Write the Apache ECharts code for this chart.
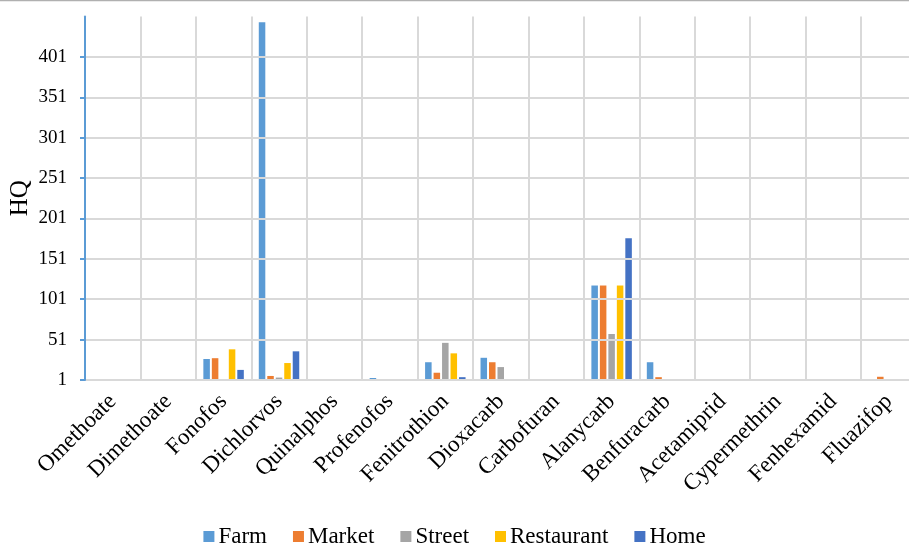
<!DOCTYPE html>
<html>
<head>
<meta charset="utf-8">
<script src="https://cdn.jsdelivr.net/npm/echarts@6/dist/echarts.min.js"></script>
<style>
html,body{margin:0;padding:0;background:#fff;}
#c{width:909px;height:545px;}
</style>
</head>
<body>
<div id="c"></div>
<script>
const categories = ['Omethoate','Dimethoate','Fonofos','Dichlorvos','Quinalphos','Profenofos','Fenitrothion','Dioxacarb','Carbofuran','Alanycarb','Benfuracarb','Acetamiprid','Cypermethrin','Fenhexamid','Fluazifop'];
const farm       = [0, 0, 27, 444, 0, 3.5, 23, 28.5, 0, 118, 23, 0, 0, 0, 0];
const market     = [0, 0, 28, 6, 0, 0, 10, 23, 0, 118, 4.5, 0, 0, 0, 5];
const street     = [0, 0, 0, 4, 0, 0, 47, 17, 0, 58, 0, 0, 0, 0, 0];
const restaurant = [0, 0, 39, 22, 0, 0, 34, 0, 0, 118, 0, 0, 0, 0, 0];
const home       = [0, 0, 13.5, 36.5, 0, 0, 4.5, 0, 0, 176.5, 0, 0, 0, 0, 0];
const seriesNames = ['Farm','Market','Street','Restaurant','Home'];
const colors = ['#5B9BD5','#ED7D31','#A5A5A5','#FFC000','#4472C4'];

const font = "'Liberation Serif','Times New Roman',serif";
const chart = echarts.init(document.getElementById('c'), null, {renderer:'canvas'});
const dataSets = [farm, market, street, restaurant, home];
const toVal = arr => arr.map(v => v === 0 ? null : v);

chart.setOption({
  animation: false,
  color: colors,
  textStyle: {fontFamily: font},
  graphic: [{type:'line', shape:{x1:0,y1:0.5,x2:909,y2:0.5}, style:{stroke:'#b0b0b0', lineWidth:1.5}}],
  grid: {left: 85, right: -7.5, top: 16.6, bottom: 165, outerBoundsMode: 'none', containLabel: false},
  legend: {
    top: 520, left: 'center',
    itemWidth: 11, itemHeight: 11, itemGap: 26, icon: 'rect',
    textStyle: {fontFamily: font, fontSize: 23, color: '#000', padding: [0,0,0,-1]},
    data: seriesNames
  },
  xAxis: {
    type: 'category',
    data: categories,
    axisLine: {show: true, lineStyle: {color: '#d9d9d9', width: 2}},
    axisTick: {show: false},
    splitLine: {show: true, lineStyle: {color: '#d9d9d9', width: 2}},
    axisLabel: {rotate: 45, interval: 0, fontFamily: font, fontSize: 23, color: '#000', margin: 18}
  },
  yAxis: {
    type: 'value',
    min: 1, max: 451, interval: 50,
    name: 'HQ', nameLocation: 'middle', nameGap: 52, nameRotate: 90, nameMoveOverlap: false,
    nameTextStyle: {fontFamily: font, fontSize: 25, color: '#000'},
    axisLine: {show: true, lineStyle: {color: '#5B9BD5', width: 2}},
    axisTick: {show: true, length: 5, lineStyle: {color: '#5B9BD5', width: 2}},
    axisLabel: {fontFamily: font, fontSize: 19, color: '#000', margin: 18, showMaxLabel: false},
    splitLine: {show: true, lineStyle: {color: ['#d9d9d9','#d9d9d9','#d9d9d9','#d9d9d9','#d9d9d9','#d9d9d9','#d9d9d9','#d9d9d9','#d9d9d9','rgba(0,0,0,0)'], width: 2}},
    z: 5
  },
  series: seriesNames.map((n, i) => ({
    name: n, type: 'bar', data: toVal(dataSets[i]),
    barGap: '30%', barCategoryGap: '27%',
    itemStyle: {color: colors[i]}
  }))
});
</script>
</body>
</html>
